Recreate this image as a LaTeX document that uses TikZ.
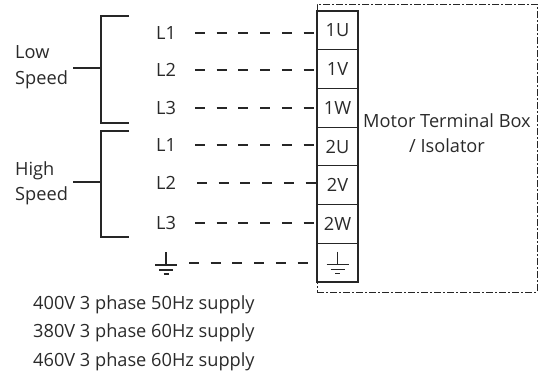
\documentclass[tikz,border=0pt]{standalone}
\usepackage{fontspec}
\setmainfont{Open Sans}
\definecolor{ink}{HTML}{262626}
\definecolor{txt}{HTML}{2A2A2A}
\begin{document}
\begin{tikzpicture}[x=1pt,y=-1pt,
  every node/.style={text=txt,font=\fontsize{18.2}{25.5}\selectfont},
  lab/.style={inner sep=0pt},
  cell/.style={draw=ink,line width=1.2pt,minimum width=41pt,minimum height=38.7pt,inner sep=0pt},
  wire/.style={draw=ink,line width=1.8pt,dash pattern=on 10pt off 11.7pt},
  brack/.style={draw=ink,line width=1.6pt},
  earthline/.style={draw=ink,line width=1.3pt},
  outer/.style={draw=ink,line width=0.8pt,dash pattern=on 7pt off 2pt on 2pt off 2pt}]
\useasboundingbox (0,0) rectangle (538,376);
% outer box
\node[outer,minimum width=220pt,minimum height=288pt,inner sep=0pt] (box) at (427,148) {};
\node[align=center,lab] (mt) at (447,133) {Motor Terminal Box\\/ Isolator};
% cells
\node[cell] (c1) at (337.5,30.4) {1U};
\node[cell] (c2) at (337.5,69.1) {1V};
\node[cell] (c3) at (337.5,107.8) {1W};
\node[cell] (c4) at (337.5,146.5) {2U};
\node[cell] (c5) at (337.5,185.2) {2V};
\node[cell] (c6) at (337.5,223.9) {2W};
\node[cell] (c7) at (337.5,262.6) {};
% labels
\node[lab] (a1) at (166,33) {L1};
\node[lab] (a2) at (166,70) {L2};
\node[lab] (a3) at (166,108) {L3};
\node[lab] (b1) at (166,145) {L1};
\node[lab] (b2) at (166,183) {L2};
\node[lab] (b3) at (166,223) {L3};
\node[lab,minimum width=22pt,minimum height=22pt] (g) at (166,263) {};
% wires
\draw[wire] (195,0 |- a1) -- (c1.west |- a1);
\draw[wire] (195,0 |- a2) -- (c2.west |- a2);
\draw[wire] (195,0 |- a3) -- (c3.west |- a3);
\draw[wire] (195,0 |- b1) -- (c4.west |- b1);
\draw[wire] (197,0 |- b2) -- (c5.west |- b2);
\draw[wire] (195,0 |- b3) -- (c6.west |- b3);
\draw[wire] (189,0 |- g) -- (c7.west |- g);
% earth symbols
\foreach \n in {g,c7}{
  \draw[earthline] ([shift={(0,-11)}]\n.center) -- ([shift={(0,2)}]\n.center);
  \draw[earthline] ([shift={(-11,2)}]\n.center) -- ([shift={(11,2)}]\n.center);
  \draw[earthline] ([shift={(-7,7)}]\n.center) -- ([shift={(7,7)}]\n.center);
  \draw[earthline] ([shift={(-2.5,11)}]\n.center) -- ([shift={(2.5,11)}]\n.center);
}
% speed labels
\node[lab,align=left,anchor=west] (low) at (15,67) {Low\\Speed};
\node[lab,align=left,anchor=west] (high) at (15,183.5) {High\\Speed};
\coordinate (lt) at (129,16);
\coordinate (lb) at (129,123);
\coordinate (ht) at (129,131);
\coordinate (hb) at (129,237);
\draw[brack] (lt) -| (101,123) -- (lb);
\draw[brack] (73,68) -- (101,68);
\draw[brack] (ht) -| (101,237) -- (hb);
\draw[brack] (73,182) -- (101,182);
% supply texts
\node[lab,anchor=west] (s1) at (33,305) {400V 3 phase 50Hz supply};
\node[lab,anchor=west] (s2) at (33,333) {380V 3 phase 60Hz supply};
\node[lab,anchor=west] (s3) at (33,362) {460V 3 phase 60Hz supply};
\end{tikzpicture}
\end{document}
